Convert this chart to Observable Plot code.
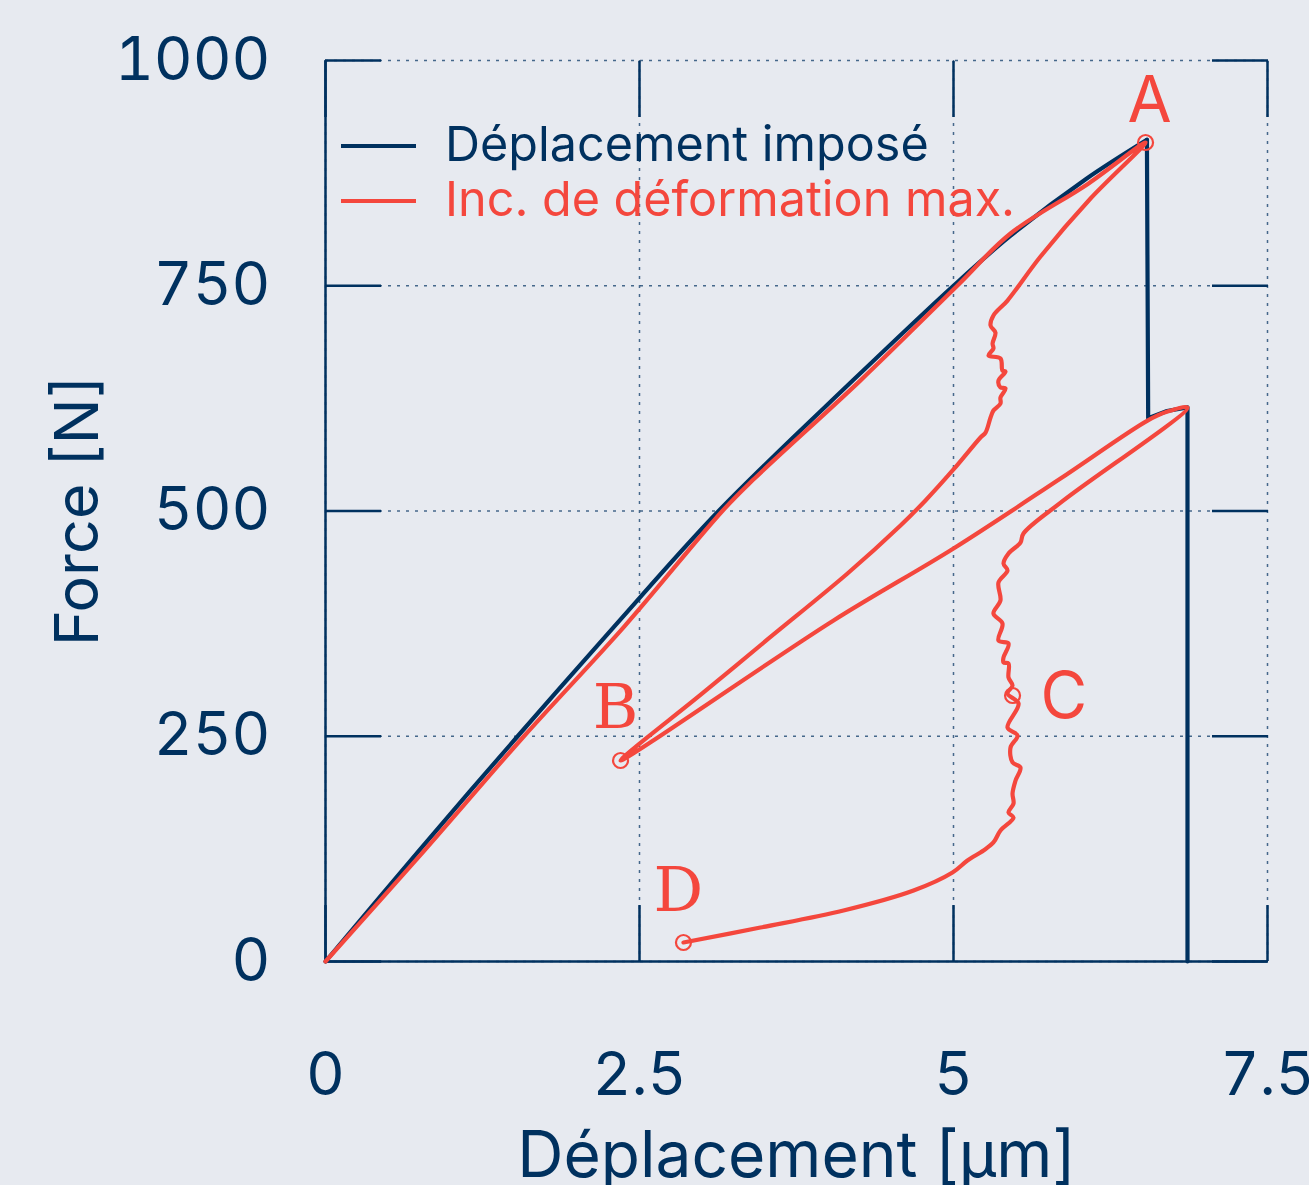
<!DOCTYPE html>
<html><head><meta charset="utf-8">
<script src="https://cdn.jsdelivr.net/npm/d3@7"></script>
<script src="https://cdn.jsdelivr.net/npm/@observablehq/plot@0.6"></script>
<style>
html,body{margin:0;padding:0;background:#e7eaf0;}
#wrap{position:relative;width:1309px;height:1185px;overflow:hidden;}
#legend{position:absolute;left:0;top:0;pointer-events:none;}
</style></head><body><div id="wrap"></div>
<script>
const NAVY = "#00315f";
const RED = "#f4473d";
const BG = "#e7eaf0";

const xTicks = [0, 2.5, 5, 7.5];
const xTickLabels = ["0", "2.5", "5", "7.5"];
const yTicks = [0, 250, 500, 750, 1000];
const yTickLabels = ["0", "250", "500", "750", "1000"];
const xAxisLabel = "Déplacement [µm]";
const yAxisLabel = "Force [N]";
const seriesNames = ["Déplacement imposé", "Inc. de déformation max."];

// Navy series: imposed displacement
const navyLoading = [[0,0],[0.75,124],[1.53,250],[2.3,372],[3.13,500],[4.2,645],[5.0,750],[5.45,805],[6.05,868],[6.54,912]];
const navyTail = [[6.54,912],[6.55,603],[6.70,611],[6.863,615],[6.863,0]];

// Red series: max strain increment
const redLoading = [[0,0],[0.78,122],[1.58,250],[2.38,372],[3.16,500],[3.4,534],[4.26,645],[5.03,750],[5.454,808],[6.07,863],[6.529,909]];
const redUnloadAB = [[6.091,846.8],[5.693,782.5],[5.430,733.6],[5.318,717.0],[5.295,705.9],[5.334,698.1],[5.311,685.9],[5.318,680.4],[5.279,672.6],[5.374,669.3],[5.390,655.9],[5.414,654.8],[5.358,644.8],[5.374,637.1],[5.414,636.0],[5.374,626.0],[5.374,619.3],[5.318,611.5],[5.295,603.8],[5.255,587.1],[5.215,581.6],[5.0,546.1],[4.777,511.7],[4.578,483.9],[4.156,430.6],[3.519,357.4],[3.0,297.5],[2.349,223.1]];
const redReloadB = [[4.045,378.5],[5.0,458.4],[5.852,536.1],[6.545,600.4],[6.704,610.4],[6.863,614.9]];
const redUnloadCD = [[5.876,511.7],[5.557,475.0],[5.533,465.0],[5.438,452.8],[5.398,441.7],[5.430,434.0],[5.358,420.6],[5.374,400.7],[5.318,386.2],[5.390,375.1],[5.358,356.3],[5.438,352.9],[5.398,337.4],[5.398,331.9],[5.438,330.7],[5.438,315.2],[5.470,306.3],[5.430,297.4],[5.518,286.3],[5.430,259.7],[5.510,250.8],[5.454,237.5],[5.470,220.9],[5.533,215.3],[5.494,200.9],[5.470,186.5],[5.478,175.4],[5.438,165.4],[5.478,159.8],[5.374,145.4],[5.318,132.1],[5.239,123.2],[5.111,112.1],[4.992,98.8],[4.682,78.8],[4.124,56.6],[3.463,37.7],[2.850,21.1]];

// Key points
const keyLabels = ["A", "B", "C", "D"];
const keyX = [6.529, 2.349, 5.470, 2.850];
const keyY = [909, 223.1, 295.2, 21.1];

const toRows = (arr) => arr.map(([x, y]) => ({x, y}));
const navyA = toRows(navyLoading);
const navyB = toRows(navyTail);
const red = toRows([...redLoading, ...redUnloadAB, ...redReloadB, ...redUnloadCD]);
const keys = keyLabels.map((k, i) => ({k, x: keyX[i], y: keyY[i]}));
const keyOf = (k) => keys.filter(d => d.k === k);

const gridStyle = {stroke: NAVY, strokeOpacity: 0.7, strokeWidth: 1.5, strokeDasharray: "3,6"};
const tickStyle = {tickSize: -56, strokeWidth: 2.5, stroke: NAVY, tickFormat: () => "", label: null};
const lineW = 4.2;

const chart = Plot.plot({
  width: 1309, height: 1185,
  marginLeft: 325, marginRight: 42, marginTop: 60, marginBottom: 224,
  x: {domain: [0, 7.5]},
  y: {domain: [0, 1000]},
  style: {background: BG, color: NAVY, fontFamily: "Inter, sans-serif", fontSize: "60px", overflow: "visible"},
  marks: [
    Plot.gridX(xTicks, gridStyle),
    Plot.gridY(yTicks, gridStyle),
    Plot.axisX(xTicks, {anchor: "bottom", ...tickStyle}),
    Plot.axisX(xTicks, {anchor: "top", ...tickStyle}),
    Plot.axisY(yTicks, {anchor: "left", ...tickStyle}),
    Plot.axisY(yTicks, {anchor: "right", ...tickStyle}),
    Plot.axisX(xTicks, {anchor: "bottom", tickSize: 0, tickPadding: 91, fontSize: 60, label: null,
      tickFormat: d => xTickLabels[xTicks.indexOf(d)]}),
    Plot.axisY(yTicks, {anchor: "left", tickSize: 0, tickPadding: 55, fontSize: 60, label: null,
      tickFormat: d => yTickLabels[yTicks.indexOf(d)]}),
    Plot.ruleX([0], {stroke: NAVY, strokeWidth: 2.5}),
    Plot.ruleY([0], {stroke: NAVY, strokeWidth: 2.5}),
    Plot.line(navyA, {x: "x", y: "y", stroke: NAVY, strokeWidth: lineW, curve: "catmull-rom", strokeLinecap: "round"}),
    Plot.line(navyB, {x: "x", y: "y", stroke: NAVY, strokeWidth: lineW, strokeLinejoin: "round"}),
    Plot.line(red, {x: "x", y: "y", stroke: RED, strokeWidth: lineW, curve: "catmull-rom", strokeLinejoin: "round"}),
    Plot.dot(keys, {x: "x", y: "y", r: 7.5, stroke: RED, strokeWidth: 2.2, fill: "none"}),
    Plot.text(keyOf("A"), {x: "x", y: "y", text: "k", fill: RED, fontSize: 64, fontFamily: "Inter, sans-serif", lineAnchor: "bottom", dx: 4, dy: -20}),
    Plot.text(keyOf("B"), {x: "x", y: "y", text: "k", fill: RED, fontSize: 62, fontFamily: "DejaVu Serif, serif", lineAnchor: "bottom", dx: -5, dy: -32}),
    Plot.text(keyOf("C"), {x: "x", y: "y", text: "k", fill: RED, fontSize: 64, fontFamily: "Inter, sans-serif", lineAnchor: "middle", textAnchor: "start", dx: 28, dy: 2}),
    Plot.text(keyOf("D"), {x: "x", y: "y", text: "k", fill: RED, fontSize: 62, fontFamily: "DejaVu Serif, serif", lineAnchor: "bottom", dx: -5, dy: -31}),
    Plot.text([xAxisLabel], {frameAnchor: "bottom", dy: 215, lineAnchor: "bottom", textAnchor: "middle", fontSize: 64, fill: NAVY}),
    Plot.text([yAxisLabel], {frameAnchor: "left", rotate: -90, dx: -228, lineAnchor: "bottom", textAnchor: "middle", fontSize: 61, fill: NAVY})
  ]
});
const wrap = document.getElementById("wrap");
wrap.appendChild(chart);

// Legend overlay (inside the plot area, top-left)
const ns = "http://www.w3.org/2000/svg";
const leg = document.createElementNS(ns, "svg");
leg.setAttribute("id", "legend");
leg.setAttribute("width", 1309);
leg.setAttribute("height", 300);
const colors = [NAVY, RED];
const rowsY = [146, 201];
seriesNames.forEach((name, i) => {
  const ln = document.createElementNS(ns, "line");
  ln.setAttribute("x1", 341); ln.setAttribute("x2", 416);
  ln.setAttribute("y1", rowsY[i]); ln.setAttribute("y2", rowsY[i]);
  ln.setAttribute("stroke", colors[i]); ln.setAttribute("stroke-width", 4);
  leg.appendChild(ln);
  const t = document.createElementNS(ns, "text");
  t.setAttribute("x", 445); t.setAttribute("y", rowsY[i] + 15);
  t.setAttribute("fill", colors[i]);
  t.setAttribute("font-family", "Inter, sans-serif");
  t.setAttribute("font-size", 48.5);
  t.textContent = name;
  leg.appendChild(t);
});
wrap.appendChild(leg);
</script></body></html>
